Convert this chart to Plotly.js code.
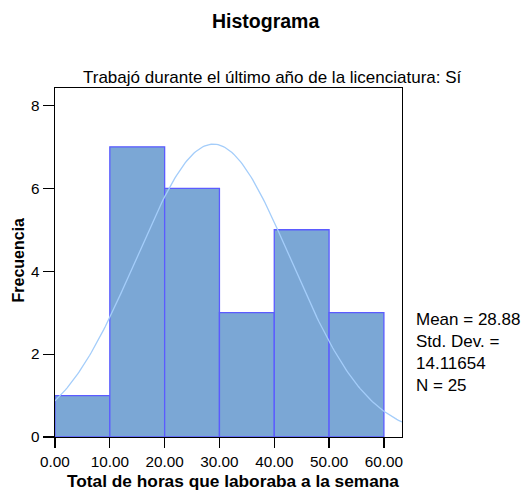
<!DOCTYPE html>
<html>
<head>
<meta charset="utf-8">
<script src="https://cdn.plot.ly/plotly-3.0.1.min.js"></script>
<style>html,body{margin:0;padding:0;background:#fff;}#chart{width:522px;height:491px;}</style>
</head>
<body>
<div id="chart"></div>
<script>
// Data
const binStarts = [0, 10, 20, 30, 40, 50];
const binWidth = 10;
const counts = [1, 7, 6, 3, 5, 3];
const xTicks = [0, 10, 20, 30, 40, 50, 60];
const yTicks = [0, 2, 4, 6, 8];
const statMean = 28.88;
const statSD = 14.11654;
const statN = 25;
const statLines = ["Mean = 28.88", "Std. Dev. =", "14.11654", "N = 25"];

const xMax = 63.3, yMax = 8.42;

// Normal curve fitted from the reported mean / SD / N
const cx = [], cy = [];
for (let i = 0; i <= 200; i++) {
  const x = xMax * i / 200;
  const z = (x - statMean) / statSD;
  cx.push(x);
  cy.push(statN * binWidth * Math.exp(-0.5 * z * z) / (statSD * Math.sqrt(2 * Math.PI)));
}

const font = "Liberation Sans, Arial, sans-serif";

const traces = [
  {
    type: "bar",
    x: binStarts.map(s => s + binWidth / 2),
    y: counts,
    width: binWidth,
    marker: { color: "#7ba7d5", line: { color: "#5b5bff", width: 1.3 } },
    hoverinfo: "skip"
  },
  {
    type: "scatter",
    mode: "lines",
    x: cx, y: cy,
    line: { color: "#a4cdfa", width: 1.3 },
    hoverinfo: "skip"
  }
];

const layout = {
  width: 522, height: 491,
  margin: { l: 55, r: 120, t: 88, b: 54 },
  paper_bgcolor: "#fff", plot_bgcolor: "#fff",
  showlegend: false,
  font: { family: font, size: 15, color: "#000" },
  bargap: 0,
  xaxis: {
    range: [0, xMax], tickvals: xTicks, tickformat: ".2f",
    ticks: "outside", ticklen: 10, tickcolor: "#000", tickwidth: 1.2,
    showgrid: false, zeroline: false,
    showline: true, linecolor: "#000", linewidth: 1.3, mirror: true,
    tickfont: { family: font, size: 15.3, color: "#000" }
  },
  yaxis: {
    range: [0, yMax], tickvals: yTicks,
    ticks: "outside", ticklen: 11, tickcolor: "#000", tickwidth: 1.2,
    showgrid: false, zeroline: false,
    showline: true, linecolor: "#000", linewidth: 1.3, mirror: true,
    tickfont: { family: font, size: 15.3, color: "#000" }
  },
  annotations: [
    { text: "<b>Histograma</b>", xref: "paper", yref: "paper", x: 0.608, y: 1, yshift: 67,
      showarrow: false, font: { family: font, size: 19.5 }, xanchor: "center", yanchor: "middle" },
    { text: "Trabajó durante el último año de la licenciatura: Sí", xref: "paper", yref: "paper",
      x: 0.6254, y: 1, yshift: 11, showarrow: false, font: { family: font, size: 17 },
      xanchor: "center", yanchor: "middle" },
    { text: "<b>Total de horas que laboraba a la semana</b>", xref: "paper", yref: "paper",
      x: 0.5118, y: 0, yshift: -44, showarrow: false, font: { family: font, size: 17.3 },
      xanchor: "center", yanchor: "middle" },
    { text: "<b>Frecuencia</b>", xref: "paper", yref: "paper", x: 0, xshift: -36, y: 0.5057,
      textangle: -90, showarrow: false, font: { family: font, size: 16 },
      xanchor: "center", yanchor: "middle" },
    { text: statLines.join("<br>"), xref: "paper", yref: "paper", x: 1, xshift: 12, y: 0.37,
      showarrow: false, align: "left", xanchor: "left", yanchor: "top",
      font: { family: font, size: 17 } }
  ]
};

Plotly.newPlot("chart", traces, layout, { staticPlot: true, displayModeBar: false });
</script>
</body>
</html>
